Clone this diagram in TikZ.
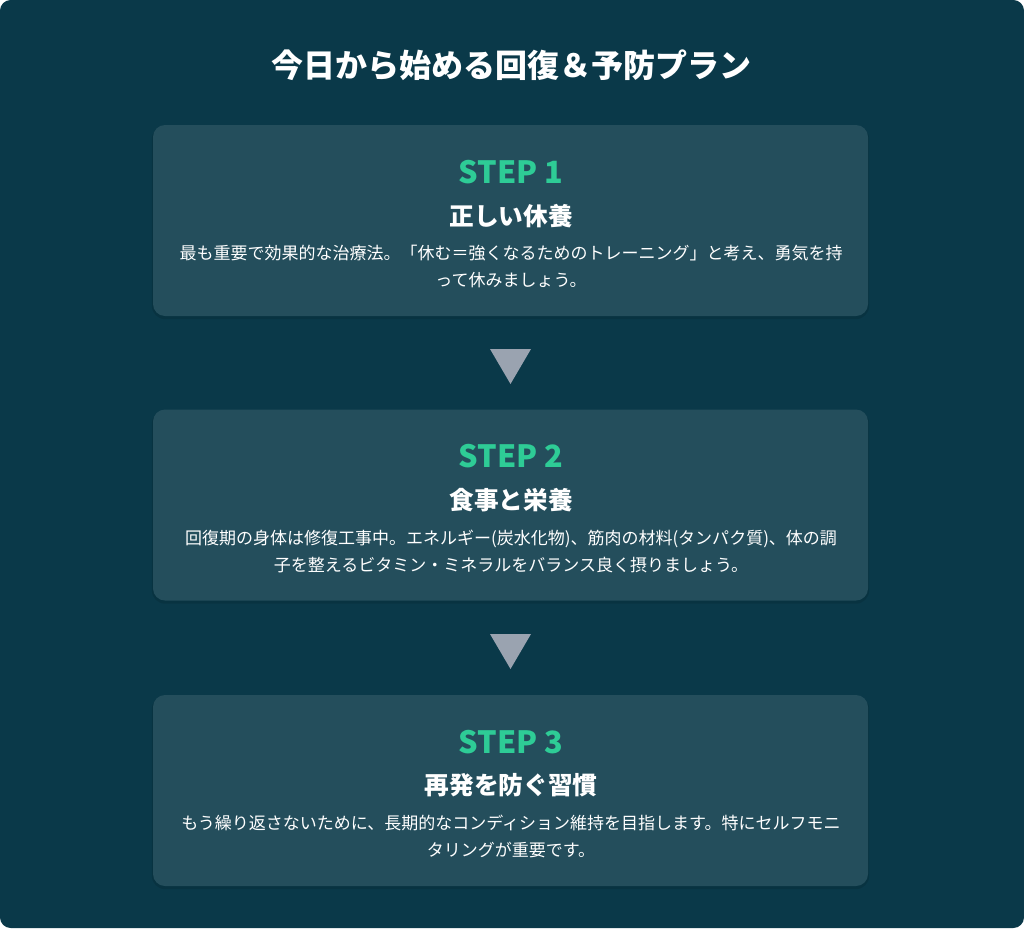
\documentclass[tikz,border=0pt]{standalone}
\usepackage{fontspec}
\usepackage{tikz}
\setmainfont{Noto Sans CJK JP}
\definecolor{bgteal}{RGB}{10,57,73}
\definecolor{cardteal}{RGB}{36,78,92}
\definecolor{stepgreen}{RGB}{46,204,150}
\definecolor{arrowgray}{RGB}{154,163,176}
\begin{document}
\begin{tikzpicture}[x=0.75pt,y=-0.75pt]
\tikzstyle{every node}+=[inner sep=0pt,text=white]
\tikzstyle{card}=[fill=cardteal,rounded corners=9pt,minimum width=536.25pt,minimum height=143.25pt]
\tikzstyle{cardshadow}=[fill=black,opacity=0.1,rounded corners=10pt,minimum width=538pt,minimum height=145pt]
\tikzstyle{steplabel}=[text=stepgreen,font=\fontsize{23}{27}\selectfont\bfseries]
\tikzstyle{headline}=[font=\fontsize{18.5}{22}\selectfont\bfseries]
\tikzstyle{desc}=[align=center,font=\fontsize{12.75}{20.25}\selectfont]
\useasboundingbox (0,0) rectangle (1024,928);
\fill [white] (0,0) rectangle (1024,928);
\fill [bgteal,rounded corners=8pt] (0,0) rectangle (1024,928);
\node [font=\fontsize{24}{28}\selectfont\bfseries] (title) at (511,65) {今日から始める回復＆予防プラン};
\node [cardshadow] at (510.5,222.5) {};
\node [card] (card1) at (510.5,220.5) {};
\node [steplabel] (step1) at (511,172) {STEP 1};
\node [headline] (head1) at (511,216) {正しい休養};
\node [desc] (desc1) at (511,266.5) {最も重要で効果的な治療法。「休む＝強くなるためのトレーニング」と考え、勇気を持\\って休みましょう。};
\fill [arrowgray] (490,349) -- (531,349) -- (510.5,384) -- cycle;
\node [cardshadow] at (510.5,507) {};
\node [card] (card2) at (510.5,505) {};
\node [steplabel] (step2) at (511,456) {STEP 2};
\node [headline] (head2) at (511,500) {食事と栄養};
\node [desc] (desc2) at (511,551) {回復期の身体は修復工事中。エネルギー(炭水化物)、筋肉の材料(タンパク質)、体の調\\子を整えるビタミン・ミネラルをバランス良く摂りましょう。};
\fill [arrowgray] (490,634) -- (531,634) -- (510.5,669) -- cycle;
\node [cardshadow] at (510.5,792.5) {};
\node [card] (card3) at (510.5,790.5) {};
\node [steplabel] (step3) at (511,742) {STEP 3};
\node [headline] (head3) at (511,785) {再発を防ぐ習慣};
\node [desc] (desc3) at (511,836.5) {もう繰り返さないために、長期的なコンディション維持を目指します。特にセルフモニ\\タリングが重要です。};
\end{tikzpicture}
\end{document}
